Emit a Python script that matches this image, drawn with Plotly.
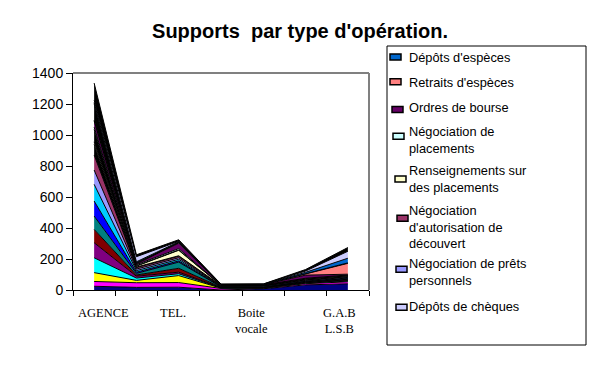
import plotly.graph_objects as go

# ---------------- data ----------------
# 7 category positions along the x axis (only every other one is labelled in the source)
positions = [0, 1, 2, 3, 4, 5, 6]
category_labels = ["AGENCE", "TEL.", "Boite<br>vocale", "G.A.B<br>L.S.B"]
category_label_pos = [0.23, 1.86, 3.73, 5.80]

# stacked series, bottom -> top
series_names = [
    "Série 1", "Série 2", "Série 3", "Série 4", "Série 5", "Série 6", "Série 7",
    "Série 8", "Série 9",
    "Négociation de prêts personnels",
    "Négociation d'autorisation de découvert",
    "Autres 1",
    "Renseignements sur des placements",
    "Autres 2",
    "Négociation de placements",
    "Ordres de bourse",
    "Retraits d'espèces",
    "Autres 3",
    "Dépôts d'espèces",
    "Dépôts de chèques",
    "Autres 4",
]
series_values = [
    [24, 17, 18, 0, 8, 33, 40],
    [31, 30, 30, 10, 3, 8, 13],
    [57, 15, 45, 2, 2, 3, 4],
    [96, 15, 12, 2, 2, 3, 4],
    [97, 12, 10, 2, 2, 3, 4],
    [86, 8, 25, 2, 2, 3, 4],
    [86, 10, 40, 2, 2, 3, 4],
    [97, 8, 8, 2, 2, 3, 4],
    [108, 10, 10, 2, 2, 3, 4],
    [92, 10, 10, 2, 2, 3, 4],
    [97, 10, 10, 2, 2, 3, 4],
    [70, 3, 3, 1, 1, 2, 2],
    [15, 6, 35, 1, 1, 2, 2],
    [80, 3, 3, 1, 1, 2, 2],
    [15, 6, 8, 1, 1, 2, 2],
    [40, 6, 35, 1, 1, 20, 5],
    [5, 4, 3, 1, 1, 8, 70],
    [106, 3, 3, 1, 1, 2, 3],
    [8, 6, 3, 1, 1, 8, 30],
    [15, 33, 3, 1, 1, 8, 45],
    [110, 12, 10, 1, 1, 10, 24],
]
series_colors = [
    "#000080", "#FF00FF", "#FFFF00", "#00FFFF", "#800080", "#800000", "#008080",
    "#0000FF", "#00CCFF", "#9999FF", "#993366", "#000000", "#FFFFCC", "#000000",
    "#CCFFFF", "#660066", "#FF8080", "#000000", "#0066CC", "#CCCCFF", "#000000",
]

# legend (as shown in the source, clipped after 8 entries)
legend_labels = [
    "Dépôts d'espèces",
    "Retraits d'espèces",
    "Ordres de bourse",
    "Négociation de<br>placements",
    "Renseignements sur<br>des placements",
    "Négociation<br>d'autorisation de<br>découvert",
    "Négociation de prêts<br>personnels",
    "Dépôts de chèques",
]
legend_colors = ["#0066CC", "#FF8080", "#660066", "#CCFFFF", "#FFFFCC", "#993366", "#9999FF", "#CCCCFF"]

title_text = "Supports\u00a0 par type d'opération."

# ---------------- layout helpers ----------------
OFF = 8                      # page body margin of the html page
W, H = 598 - OFF, 392 - OFF  # figure size
PL, PR, PT, PB = 73, 369, 73, 290   # plot area in screen pixels


def fx(x):
    return (x - PL) / (PR - PL)


def fy(y):
    return (PB - y) / (PB - PT)


fig = go.Figure()
for name, vals, col in zip(series_names, series_values, series_colors):
    fig.add_trace(go.Scatter(
        x=positions, y=vals, name=name, stackgroup="one", mode="lines",
        line=dict(color="black", width=1), fillcolor=col, showlegend=False,
    ))

shapes = []
annotations = []

# plot-area frame (grey top / right)
shapes.append(dict(type="line", xref="paper", yref="paper", x0=0, x1=1, y0=1, y1=1,
                   line=dict(color="#808080", width=2), layer="above"))
shapes.append(dict(type="line", xref="paper", yref="paper", x0=1, x1=1, y0=0, y1=1,
                   line=dict(color="#808080", width=2), layer="above"))

# legend box
shapes.append(dict(type="rect", xref="paper", yref="paper",
                   x0=fx(387), x1=fx(586), y0=fy(345), y1=fy(46),
                   line=dict(color="black", width=1), fillcolor="white", layer="below"))

sym_x = [390, 390, 392, 393, 395, 397, 396, 396]
sym_y = [57, 81.7, 109.5, 136.3, 179, 218.3, 269.2, 307.2]
txt_y = [57.3, 82.3, 107.3, 139.7, 178.7, 227.2, 271.7, 306.7]
for lab, col, sx, sy, ty in zip(legend_labels, legend_colors, sym_x, sym_y, txt_y):
    shapes.append(dict(type="rect", xref="paper", yref="paper",
                       x0=fx(sx), x1=fx(sx + 11), y0=fy(sy + 3), y1=fy(sy - 3),
                       line=dict(color="black", width=1.5), fillcolor=col))
    annotations.append(dict(xref="paper", yref="paper", x=fx(407), y=fy(ty),
                            xanchor="left", yanchor="middle", align="left",
                            text=lab, showarrow=False,
                            font=dict(family="Liberation Sans, Arial", size=12.8, color="black")))

# category labels
for lab, pos in zip(category_labels, category_label_pos):
    multi = "<br>" in lab
    annotations.append(dict(xref="x", yref="paper", x=pos, y=fy(313 if not multi else 320.5),
                            xanchor="center", yanchor="middle", align="center",
                            text=lab, showarrow=False,
                            font=dict(family="Liberation Serif, Times New Roman", size=12.5, color="black")))

fig.update_layout(
    width=W, height=H,
    margin=dict(l=PL - OFF, r=W - (PR - OFF), t=PT - OFF, b=H - (PB - OFF), pad=0),
    paper_bgcolor="white", plot_bgcolor="white",
    showlegend=False,
    title=dict(text="<b>" + title_text + "</b>", x=(300 - OFF) / W, xanchor="center",
               y=1 - (31 - OFF) / H, yanchor="middle",
               font=dict(family="Liberation Sans, Arial", size=20, color="black")),
    xaxis=dict(range=[-0.5, 6.5], tickmode="array", tickvals=[i - 0.5 for i in range(8)],
               ticks="outside", ticklen=5, tickcolor="black", showticklabels=False,
               showline=True, linecolor="black", linewidth=1, showgrid=False, zeroline=False),
    yaxis=dict(range=[0, 1400], tickmode="linear", tick0=0, dtick=200,
               ticks="outside", ticklen=6, tickcolor="black",
               showline=True, linecolor="black", linewidth=1, showgrid=False, zeroline=False,
               tickfont=dict(family="Liberation Sans, Arial", size=14, color="black")),
    shapes=shapes, annotations=annotations,
)

fig.write_html("out.html")
